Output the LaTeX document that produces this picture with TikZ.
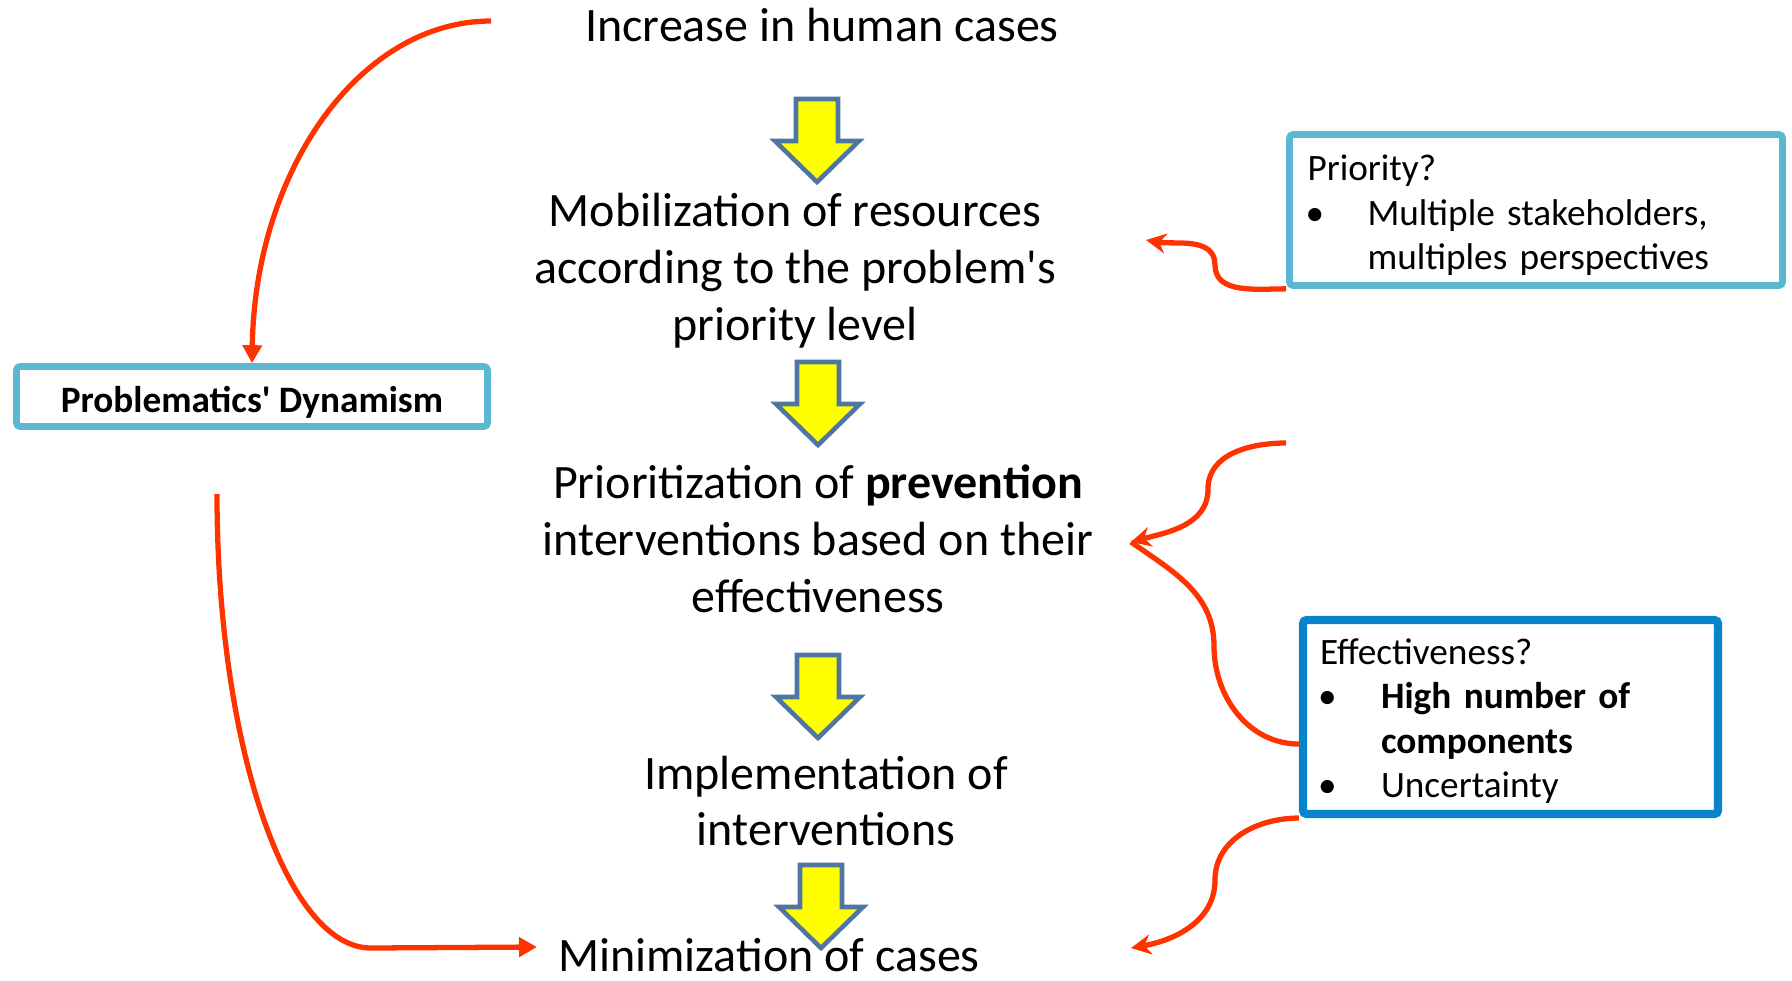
\documentclass[tikz,border=0pt]{standalone}
\usepackage{fontspec}
\setmainfont{Carlito}[Ligatures=TeXOff]
\usetikzlibrary{arrows.meta,positioning}

\definecolor{arrowyellow}{rgb}{1.0, 1.0, 0.0}
\definecolor{arrowedge}{RGB}{79, 117, 163}
\definecolor{linkred}{RGB}{255, 51, 0}
\definecolor{lightbox}{RGB}{91, 184, 210}
\definecolor{darkbox}{RGB}{8, 132, 204}

\begin{document}
\begin{tikzpicture}
	% styles for the steps, the side boxes and the red links
	\tikzset{
		steptext/.style={align=center, inner sep=0pt, font=\fontsize{13.66}{16.2}\selectfont},
		notebox/.style={rounded corners=1pt, inner ysep=0pt, font=\fontsize{10.6}{12.7}\selectfont},
		redlink/.style={draw=linkred, line width=1.5pt},
		bigarrow/.style={fill=arrowyellow, draw=arrowedge, line width=1.3pt, line join=miter}
	}
	\useasboundingbox (0,0) rectangle (17.92,9.80);
	
	% the steps, top to bottom
	\node[steptext] (rise) at (8.22, 9.55) {Increase in human cases};
	\node[steptext] (mobil) at (7.95, 7.09) {Mobilization of resources\\according to the problem's\\priority level};
	\node[steptext] (prior) at (8.18, 4.41) {Prioritization of \textbf{prevention}\\interventions based on their\\effectiveness};
	\node[steptext] (implem) at (8.26, 1.79) {Implementation of\\interventions};
	\node[steptext] (minim) at (7.69, 0.25) {Minimization of cases};
	
	% yellow block arrows between the steps
	\foreach \ax/\ay in {8.17/8.81, 8.18/6.18, 8.18/3.25, 8.21/1.15} {
		\draw[bigarrow] (\ax-0.21,\ay) -- (\ax+0.21,\ay) -- (\ax+0.21,\ay-0.42) -- (\ax+0.42,\ay-0.42)
			-- (\ax,\ay-0.83) -- (\ax-0.42,\ay-0.42) -- (\ax-0.21,\ay-0.42) -- cycle;
	}
	
	% side boxes
	\node[notebox, draw=lightbox, line width=1.9pt, minimum width=4.71cm, minimum height=0.60cm, text height=0.34cm, text depth=0.03cm, align=center] (dynbox) at (2.52, 5.835) {\textbf{Problematics' Dynamism}};
	\node[notebox, draw=lightbox, line width=1.9pt, inner xsep=0.18cm, text width=4.57cm, minimum height=1.51cm, align=left] (priobox) at (15.36, 7.70) {\rule{0pt}{0.36cm}Priority?\\
		\hspace*{-0.02cm}\makebox[0.62cm][l]{\textbullet}Multiple stakeholders,\\
		\hspace*{0.60cm}multiples perspectives};
	\node[notebox, draw=darkbox, line width=2.3pt, inner xsep=0.17cm, text width=3.81cm, minimum height=1.94cm, align=left] (effbox) at (15.105, 2.63) {\rule{0pt}{0.34cm}Effectiveness?\\
		\hspace*{-0.02cm}\makebox[0.63cm][l]{\textbullet}\textbf{High number of}\\
		\hspace*{0.61cm}\textbf{components}\\
		\hspace*{-0.02cm}\makebox[0.63cm][l]{\textbullet}Uncertainty};
	
	% left loop: cases -> dynamism -> minimization
	\coordinate (risestart) at (4.91, 9.59);
	\coordinate (dynout) at (2.17, 4.86);
	\coordinate (miniin) at (5.37, 0.33);
	\draw[redlink, -{Triangle[length=1.8mm, width=1.9mm]}] (risestart) .. controls (3.6, 9.59) and (2.55, 8.1) .. (dynbox.north);
	\draw[redlink, -{Triangle[length=1.8mm, width=1.9mm]}] (dynout) .. controls (2.17, 2.36) and (2.86, 0.32) .. (3.71, 0.32) -- (miniin);
	
	% right links from the question boxes
	\coordinate (priobend) at (12.15, 7.15);
	\coordinate (mobilin) at (11.46, 7.40);
	\draw[redlink, -{Stealth[length=2mm, width=2mm]}] (priobox.south west) to[out=180, in=-90] (priobend) to[out=90, in=-10] (mobilin);
	
	\coordinate (effupper) at (12.86, 5.37);
	\coordinate (effbendA) at (12.08, 4.91);
	\coordinate (effbendB) at (12.14, 3.34);
	\coordinate (priorin) at (11.31, 4.38);
	\draw[redlink, -{Stealth[length=2mm, width=2mm]}] (effupper) to[out=180, in=90] (effbendA) to[out=-90, in=15] (priorin);
	\draw[redlink] ([yshift=-0.27cm]effbox.west) to[out=180, in=-90] (effbendB) to[out=90, in=-35] (priorin);
	
	\coordinate (effbendC) at (12.15, 1.00);
	\coordinate (miniin2) at (11.31, 0.32);
	\draw[redlink, -{Stealth[length=2mm, width=2mm]}] (effbox.south west) to[out=180, in=90] (effbendC) to[out=-90, in=10] (miniin2);
\end{tikzpicture}
\end{document}
